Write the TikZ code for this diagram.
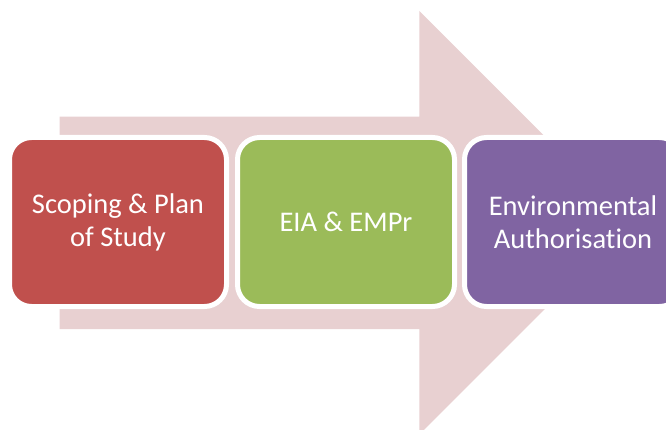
\documentclass[tikz,border=0pt]{standalone}
\usepackage{fontspec}
\setmainfont{Carlito}[Ligatures=NoCommon]
\definecolor{arrowpink}{HTML}{E8D0D1}
\definecolor{boxred}{HTML}{C0504D}
\definecolor{boxgreen}{HTML}{9BBB59}
\definecolor{boxpurple}{HTML}{8064A2}
\tikzset{
  stagebox/.style={draw=white, line width=5pt, rounded corners=22pt,
    minimum width=217pt, minimum height=169pt, inner sep=0pt,
    text=white, align=center, font=\fontsize{28.5}{33}\selectfont}
}
\begin{document}
\begin{tikzpicture}[x=1pt,y=-1pt]
\useasboundingbox (0,0) rectangle (666,430);
\clip (0,0) rectangle (666,430);
\fill[arrowpink] (59.5,116.7) -- (419.3,116.7) -- (419.3,11) -- (631,222.8)
  -- (419.3,434.6) -- (419.3,329) -- (59.5,329) -- cycle;
\node[stagebox, fill=boxred] (scoping) at (118,222) {Scoping \& Plan\\of Study};
\node[stagebox, fill=boxgreen] (eia) at (346,222) {EIA \& EMPr};
\node[stagebox, fill=boxpurple] (auth) at (573,222) {Environmental\\Authorisation};
\end{tikzpicture}
\end{document}
